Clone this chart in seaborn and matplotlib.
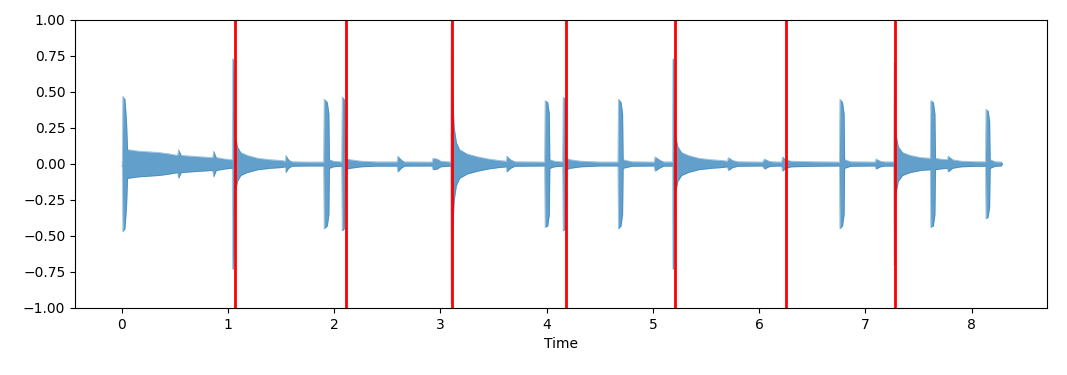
import numpy as np
import pandas as pd
import seaborn as sns
from matplotlib import pyplot as plt

# beat markers (seconds)
beat_times = [1.064, 2.108, 3.112, 4.179, 5.205, 6.249, 7.275]

# waveform envelope: time (s) and half-amplitude
env_time = [
    0.000, 0.005, 0.010, 0.030, 0.045, 0.055,
    0.15, 0.25, 0.35, 0.45, 0.525, 0.535, 0.56, 0.65, 0.75, 0.855, 0.865, 0.89, 0.97, 1.03,
    1.040, 1.044, 1.050, 1.058, 1.068, 1.09, 1.12, 1.18, 1.28, 1.40, 1.50, 1.54, 1.545, 1.57, 1.60, 1.75, 1.900,
    1.905, 1.935, 1.950, 1.955, 1.99, 2.07,
    2.075, 2.095, 2.100, 2.105, 2.15, 2.25, 2.40,
    2.59, 2.60, 2.63, 2.66, 2.92, 2.93, 2.97, 3.00, 3.08, 3.092,
    3.096, 3.100, 3.106, 3.118, 3.13, 3.15, 3.18, 3.25, 3.35, 3.45, 3.55, 3.62, 3.625, 3.66, 3.70, 3.98,
    3.985, 4.010, 4.025, 4.030, 4.07, 4.150,
    4.155, 4.175, 4.180, 4.185, 4.22, 4.32, 4.50, 4.670,
    4.675, 4.700, 4.715, 4.720, 4.80, 5.01, 5.02, 5.06, 5.10, 5.180,
    5.184, 5.188, 5.194, 5.200, 5.212, 5.235, 5.27, 5.33, 5.43, 5.55, 5.65, 5.70, 5.71, 5.75, 5.80, 6.03, 6.05, 6.09,
    6.12, 6.21, 6.22, 6.25, 6.30, 6.50, 6.755,
    6.760, 6.785, 6.800, 6.805, 6.86, 7.09, 7.10, 7.14, 7.18, 7.262,
    7.266, 7.270, 7.276, 7.282, 7.29, 7.31, 7.35, 7.42, 7.52, 7.610,
    7.615, 7.640, 7.655, 7.660, 7.70, 7.77, 7.78, 7.82, 7.90, 8.05, 8.130,
    8.135, 8.155, 8.170, 8.175, 8.22, 8.28, 8.29,
]
env_amp = [
    0.012, 0.020, 0.470, 0.450, 0.300, 0.100,
    0.090, 0.085, 0.080, 0.070, 0.060, 0.100, 0.060, 0.055, 0.050, 0.045, 0.090, 0.045, 0.035, 0.030,
    0.030, 0.730, 0.730, 0.280, 0.200, 0.120, 0.080, 0.060, 0.040, 0.030, 0.025, 0.020, 0.060, 0.030, 0.016, 0.014, 0.014,
    0.450, 0.430, 0.350, 0.030, 0.020, 0.015,
    0.465, 0.450, 0.300, 0.040, 0.030, 0.020, 0.015,
    0.015, 0.055, 0.030, 0.015, 0.014, 0.040, 0.035, 0.020, 0.015, 0.015,
    0.015, 0.970, 0.970, 0.420, 0.250, 0.150, 0.100, 0.070, 0.050, 0.035, 0.025, 0.020, 0.055, 0.030, 0.016, 0.014,
    0.440, 0.430, 0.350, 0.030, 0.020, 0.015,
    0.465, 0.450, 0.300, 0.040, 0.030, 0.020, 0.014, 0.014,
    0.450, 0.430, 0.350, 0.030, 0.016, 0.014, 0.050, 0.030, 0.015, 0.015,
    0.015, 0.730, 0.730, 0.280, 0.200, 0.120, 0.080, 0.060, 0.040, 0.030, 0.025, 0.020, 0.045, 0.025, 0.016, 0.014, 0.035, 0.020,
    0.016, 0.014, 0.050, 0.030, 0.020, 0.016, 0.014,
    0.450, 0.430, 0.350, 0.030, 0.016, 0.014, 0.035, 0.020, 0.015, 0.015,
    0.015, 0.700, 0.700, 0.280, 0.200, 0.120, 0.080, 0.060, 0.045, 0.040,
    0.440, 0.430, 0.350, 0.040, 0.035, 0.030, 0.055, 0.030, 0.020, 0.016, 0.016,
    0.380, 0.370, 0.300, 0.030, 0.016, 0.014, 0.000,
]

wave = pd.DataFrame({"time": env_time, "amp": env_amp})
wave["low"] = -wave["amp"]

fig = plt.figure(figsize=(10.67, 3.75), dpi=100)
ax = fig.add_axes([0.0703, 0.1787, 0.911, 0.768])

blue = sns.color_palette()[0]
ax.fill_between(wave["time"], wave["low"], wave["amp"], color=blue, alpha=0.7, linewidth=0)
sns.lineplot(data=wave, x="time", y="amp", ax=ax, color=blue, alpha=0.5, linewidth=0.5)
sns.lineplot(data=wave, x="time", y="low", ax=ax, color=blue, alpha=0.5, linewidth=0.5)

for bt in beat_times:
    ax.axvline(bt, color="r", linewidth=2)

ax.set_xlim(-0.44, 8.71)
ax.set_ylim(-1, 1)
ax.set_xticks(range(0, 9))
ax.set_yticks(np.linspace(-1, 1, 9))
ax.set_xlabel("Time")
ax.set_ylabel("")

fig.savefig("out.png", dpi=100)
